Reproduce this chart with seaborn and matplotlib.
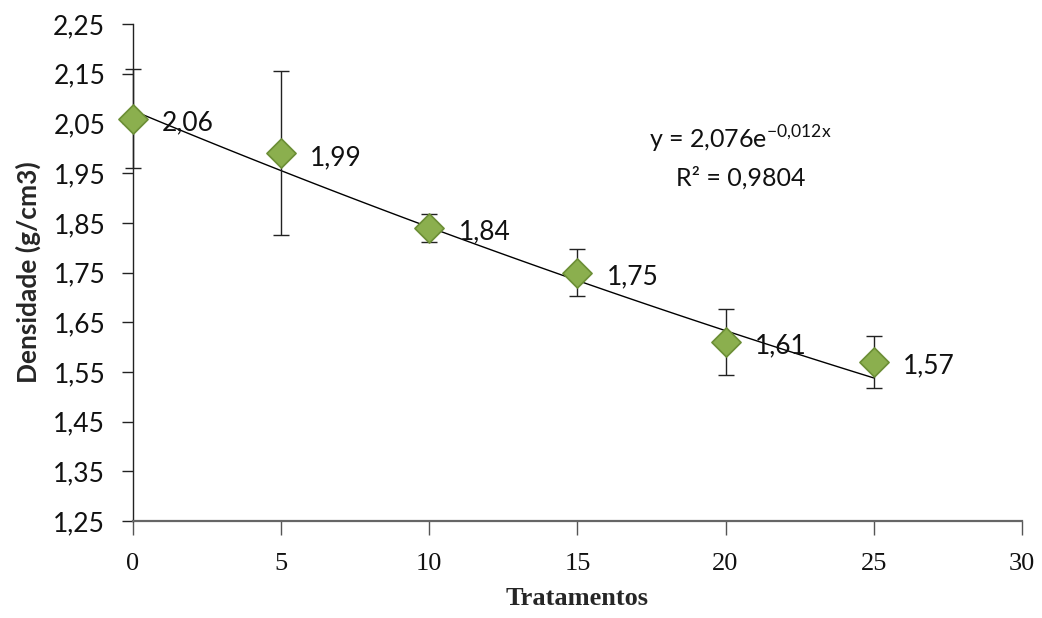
import numpy as np
import pandas as pd
import matplotlib
matplotlib.use("Agg")
import matplotlib.pyplot as plt
import seaborn as sns
from matplotlib.ticker import FuncFormatter

# Data
tratamentos = [0, 5, 10, 15, 20, 25]
densidade = [2.06, 1.99, 1.84, 1.75, 1.61, 1.57]
erro = [0.10, 0.165, 0.028, 0.048, 0.067, 0.053]
rotulos = ["2,06", "1,99", "1,84", "1,75", "1,61", "1,57"]
coef_a, coef_b = 2.076, -0.012
y_ticks = [1.25, 1.35, 1.45, 1.55, 1.65, 1.75, 1.85, 1.95, 2.05, 2.15, 2.25]
x_ticks = [0, 5, 10, 15, 20, 25, 30]

df = pd.DataFrame({"Tratamentos": tratamentos, "Densidade": densidade, "erro": erro})

sns.set_theme(style="white")
plt.rcParams['font.family'] = ['Lato', 'DejaVu Sans']
plt.rcParams['mathtext.fontset'] = 'custom'
plt.rcParams['mathtext.rm'] = 'Lato'

fig = plt.figure(figsize=(10.42, 6.18), dpi=100)
ax = fig.add_axes([0.1276, 0.157, 0.853, 0.804])

# trend line
xt = np.linspace(0, 25, 100)
trend = pd.DataFrame({"x": xt, "y": coef_a * np.exp(coef_b * xt)})
sns.lineplot(data=trend, x="x", y="y", ax=ax, color="black", linewidth=1.0, zorder=2)

# error bars
eb = ax.errorbar(df["Tratamentos"], df["Densidade"], yerr=df["erro"], fmt="none",
                 ecolor="#222222", elinewidth=1.0, capsize=6, capthick=1.0, zorder=3)
for art in eb.lines[1] + eb.lines[2]:
    art.set_clip_on(False)

# markers
sns.scatterplot(data=df, x="Tratamentos", y="Densidade", ax=ax, marker="D", s=220,
                color="#8BAF4E", edgecolor="#6B8E35", linewidth=1.2, zorder=4, clip_on=False)

for x, y, t in zip(tratamentos, densidade, rotulos):
    ax.annotate(t, (x, y), xytext=(21, -3), textcoords="offset points",
                ha="left", va="center", fontsize=19, color="#111111")

ax.text(20.5, 2.017, r"y = 2,076e$^{\mathregular{-0{,}012x}}$", ha="center", va="center",
        fontsize=18, color="#111111")
ax.text(20.5, 1.94, "R² = 0,9804", ha="center", va="center", fontsize=18, color="#111111")

ax.set_xlim(0, 30)
ax.set_ylim(1.25, 2.25)
ax.set_xticks(x_ticks)
ax.set_yticks(y_ticks)
ax.yaxis.set_major_formatter(FuncFormatter(lambda v, p: f"{v:.2f}".replace(".", ",")))
ax.xaxis.set_major_formatter(FuncFormatter(lambda v, p: f"{v:.0f}"))

for lab in ax.get_yticklabels():
    lab.set_fontsize(19)
    lab.set_color("#111111")
for lab in ax.get_xticklabels():
    lab.set_fontsize(19)
    lab.set_family("Liberation Serif")
    lab.set_color("#111111")

ax.tick_params(axis="y", direction="out", length=8, width=1.0, color="#222222", pad=12, left=True)
ax.tick_params(axis="x", direction="out", length=10, width=1.0, color="#555555", pad=13, bottom=True)

for s in ["top", "right"]:
    ax.spines[s].set_visible(False)
ax.spines["left"].set_color("#222222")
ax.spines["left"].set_linewidth(1.0)
ax.spines["bottom"].set_color("#666666")
ax.spines["bottom"].set_linewidth(1.6)

ax.set_ylabel("Densidade (g/cm3)", fontsize=19, fontweight="bold", labelpad=9)
ax.set_xlabel("Tratamentos", fontsize=19, fontweight="bold", family="Liberation Serif", labelpad=9)

fig.savefig("out.png", dpi=100)
